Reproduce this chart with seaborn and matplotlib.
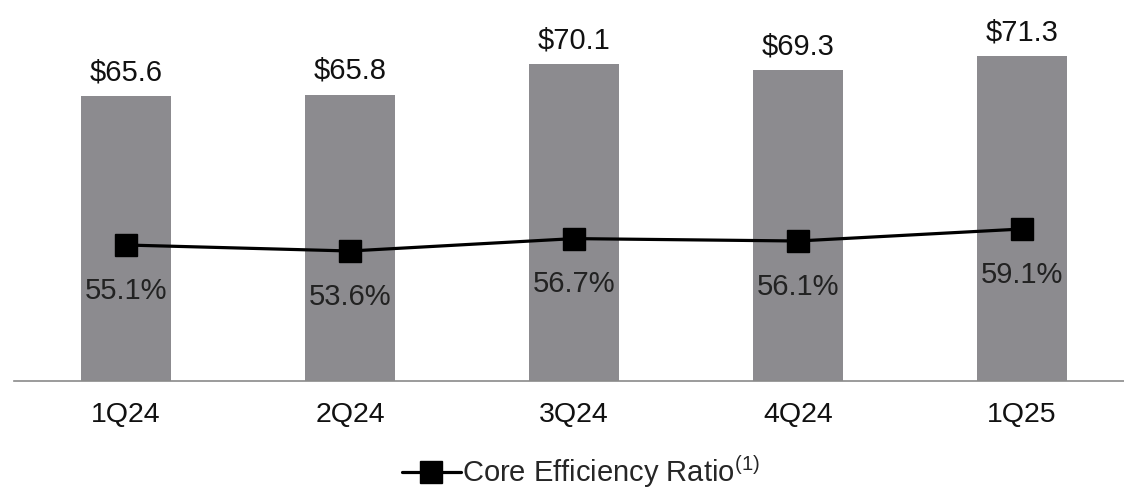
import matplotlib
matplotlib.use("Agg")
import matplotlib.pyplot as plt
import seaborn as sns
import numpy as np
import pandas as pd

quarters = ["1Q24", "2Q24", "3Q24", "4Q24", "1Q25"]
expenses = [65.6, 65.8, 70.1, 69.3, 71.3]
efficiency = [55.1, 53.6, 56.7, 56.1, 59.1]

sns.set_style("white")
plt.rcParams["font.family"] = ["Liberation Sans", "DejaVu Sans"]
plt.rcParams["mathtext.fontset"] = "custom"
plt.rcParams["mathtext.rm"] = "Liberation Sans"

W, H = 1124, 491
fig = plt.figure(figsize=(W / 100, H / 100), dpi=100)
ax = fig.add_axes([14 / W, (H - 381) / H, 1120 / W, 361 / H])

df = pd.DataFrame({"q": quarters, "exp": expenses, "eff": efficiency})
sns.barplot(data=df, x="q", y="exp", ax=ax, color="#8c8b8f", saturation=1,
            width=0.4, edgecolor="none")
ax.set_ylim(25, 25 + 361 / 7.02)
ax.set_xlim(-0.5, 4.5)
for i, v in enumerate(expenses):
    ax.annotate(f"${v:.1f}", (i, v), xytext=(0, 7), textcoords="offset points",
                ha="center", va="bottom", fontsize=21, color="#111111")

ax2 = ax.twinx()
ax2.plot(np.arange(len(quarters)), efficiency, color="black", lw=2.3,
         marker="s", markersize=16, label="Core Efficiency Ratio$^{\\rm (1)}$")
ax2.set_ylim(21.1, 21.1 + 361 / 4)
for i, v in enumerate(efficiency):
    ax2.annotate(f"{v:.1f}%", (i, v), xytext=(0, -33), textcoords="offset points",
                 ha="center", va="center", fontsize=21, color="#222222")

for a in (ax, ax2):
    for s in ["top", "left", "right"]:
        a.spines[s].set_visible(False)
    a.set_yticks([])
    a.set_ylabel("")
ax2.spines["bottom"].set_visible(False)
ax.spines["bottom"].set_color("#8a8a8a")
ax.spines["bottom"].set_linewidth(1.2)

ax.set_xticks(range(len(quarters)))
ax.set_xticklabels(quarters, fontsize=20.5, color="#111111")
ax.set_xticks(np.arange(-0.5, 5.0, 1.0), minor=True)
ax.tick_params(axis="x", which="major", length=0, pad=15)
ax.tick_params(axis="x", which="minor", length=7, width=1.2, color="#8a8a8a", direction="out")
ax.set_xlabel("")

fig.legend(*ax2.get_legend_handles_labels(), loc="center", bbox_to_anchor=(581 / W, 1 - 472 / H),
           frameon=False, fontsize=21, handlelength=2.0, handletextpad=0.05, borderpad=0)

fig.savefig("out.png", dpi=100)
